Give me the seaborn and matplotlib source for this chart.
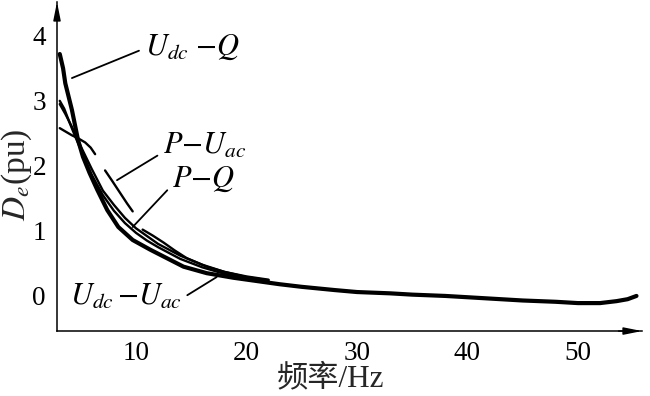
import numpy as np
import pandas as pd
import matplotlib
matplotlib.use("Agg")
import matplotlib.pyplot as plt
import seaborn as sns

# ---- data ----
f_udc_q = [3.1, 3.4, 3.6, 4.2, 4.75, 5.2, 5.8, 6.5, 7.4, 8.4, 9.7, 11.3, 12.8, 14.3,
           16.4, 18.8, 20.9, 23, 25, 28, 30, 33, 35, 38, 40, 43, 45, 48, 50, 52,
           53.5, 54.5, 55.3]
d_udc_q = [3.72, 3.5, 3.27, 2.86, 2.4, 2.14, 1.89, 1.63, 1.32, 1.06, 0.86, 0.71, 0.58,
           0.45, 0.35, 0.28, 0.23, 0.18, 0.14, 0.09, 0.06, 0.04, 0.02, 0.0, -0.02,
           -0.05, -0.07, -0.09, -0.11, -0.11, -0.08, -0.05, 0.0]

f_udc_uac = [3.1, 3.5, 4.0, 4.5, 5.0, 6.0, 7.0, 8.0, 9.0, 10.0, 11.0, 12.0, 14.0,
             16.0, 18.0, 20.0, 22.0]
d_udc_uac = [3.0, 2.88, 2.66, 2.45, 2.25, 1.86, 1.55, 1.31, 1.12, 0.97, 0.85, 0.75,
             0.57, 0.44, 0.34, 0.27, 0.22]

f_p_q = [3.1, 3.6, 4.2, 5.0, 6.0, 7.0, 8.0, 9.0, 10.0, 11.0, 12.0, 14.0, 16.0,
         18.0, 20.0, 22.0]
d_p_q = [2.95, 2.8, 2.6, 2.3, 1.95, 1.62, 1.4, 1.2, 1.04, 0.92, 0.8, 0.62, 0.48,
         0.37, 0.29, 0.24]

f_p_uac = [3.1, 3.6, 4.2, 4.8, 5.4, 5.9, 6.3,
           7.2, 7.8, 8.5, 9.2, 9.7,
           10.6, 11.5, 12.5, 13.5, 14.6, 16.4, 18.0, 20.0, 22.0]
d_p_uac = [2.58, 2.53, 2.47, 2.42, 2.36, 2.28, 2.18,
           1.93, 1.78, 1.6, 1.42, 1.3,
           1.02, 0.93, 0.82, 0.7, 0.58, 0.45, 0.37, 0.3, 0.25]
seg_p_uac = [1] * 7 + [2] * 5 + [3] * 9

x_ticks = [10, 20, 30, 40, 50]
y_ticks = [0, 1, 2, 3, 4]

# ---- figure ----
sns.set_theme(style="white")
plt.rcParams["font.family"] = ["Liberation Serif", "Noto Sans CJK SC"]
plt.rcParams["mathtext.fontset"] = "stix"

fig = plt.figure(figsize=(6.5, 3.96), dpi=100)
ax = fig.add_axes([0.0877, 0.164, 0.9, 0.831])

df_q = pd.DataFrame({"f": f_udc_q, "d": d_udc_q})
df_ua = pd.DataFrame({"f": f_udc_uac, "d": d_udc_uac})
df_pq = pd.DataFrame({"f": f_p_q, "d": d_p_q})
df_pu = pd.DataFrame({"f": f_p_uac, "d": d_p_uac, "seg": seg_p_uac})

sns.lineplot(data=df_ua, x="f", y="d", color="black", lw=1.7, sort=False, ax=ax)
sns.lineplot(data=df_pq, x="f", y="d", color="black", lw=1.7, sort=False, ax=ax)
sns.lineplot(data=df_pu, x="f", y="d", units="seg", estimator=None, color="black",
             lw=1.7, sort=False, ax=ax)
sns.lineplot(data=df_q, x="f", y="d", color="black", lw=3.0, sort=False, ax=ax)

ax.set_xlim(2.85, 55.8)
ax.set_ylim(-0.54, 4.52)
ax.set_xticks(x_ticks)
ax.set_yticks(y_ticks)
ax.set_xticklabels([str(t) for t in x_ticks])
ax.set_yticklabels([str(t) for t in y_ticks])
ax.tick_params(axis="both", direction="in", length=6, width=1.0, colors="black",
               labelsize=19.5)
ax.tick_params(axis="x", pad=7)
ax.tick_params(axis="y", pad=8)

for s in ["top", "right"]:
    ax.spines[s].set_visible(False)
for s in ["left", "bottom"]:
    ax.spines[s].set_color("black")
    ax.spines[s].set_linewidth(1.1)

# axis arrows
ax.annotate("", xy=(1.0, 0), xytext=(0.96, 0), xycoords="axes fraction",
            arrowprops=dict(arrowstyle="-|>,head_length=0.9,head_width=0.18",
                            color="black", lw=1.1, shrinkA=0, shrinkB=0))
ax.annotate("", xy=(0, 1.0), xytext=(0, 0.95), xycoords="axes fraction",
            arrowprops=dict(arrowstyle="-|>,head_length=0.9,head_width=0.18",
                            color="black", lw=1.1, shrinkA=0, shrinkB=0))

ax.set_xlabel("频率/Hz", fontsize=22.5)
ax.xaxis.set_label_coords(0.468, -0.1)
ax.set_ylabel(r"$D_e$(pu)", fontsize=24)
ax.yaxis.set_label_coords(-0.04, 0.474)

lbl = dict(fontsize=22, color="black")
line = dict(arrowstyle="-", color="black", lw=1.3, shrinkA=2, shrinkB=0)
ax.annotate(r"$U_{dc}\ {-}Q$", xy=(4.2, 3.35), xytext=(10.8, 3.83), ha="left",
            va="center", arrowprops=dict(relpos=(0, 0.45), **line), **lbl)
ax.annotate(r"$P{-}U_{ac}$", xy=(8.28, 1.78), xytext=(12.45, 2.3), ha="left",
            va="center", arrowprops=dict(relpos=(0, 0.3), **line), **lbl)
ax.annotate(r"$P{-}Q$", xy=(9.7, 1.06), xytext=(13.3, 1.8), ha="left",
            va="center", arrowprops=dict(relpos=(0, 0.3), **line), **lbl)
ax.annotate(r"$U_{dc}\,{-}U_{ac}$", xy=(17.3, 0.29), xytext=(4.0, -0.02), ha="left",
            va="center", arrowprops=dict(relpos=(1, 0.45), **line), **lbl)

fig.savefig("out.png", dpi=100)
